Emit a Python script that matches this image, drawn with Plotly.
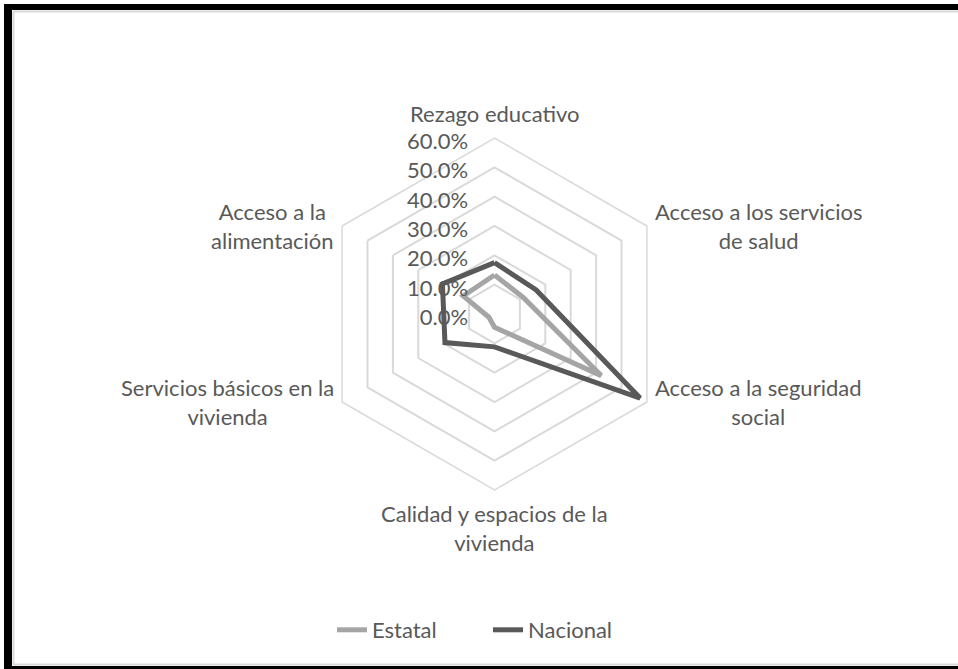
import math
import plotly.graph_objects as go

categories = ["Rezago educativo", "Acceso a los servicios de salud", "Acceso a la seguridad social",
              "Calidad y espacios de la vivienda", "Servicios básicos en la vivienda", "Acceso a la alimentación"]
category_labels = ["Rezago educativo", "Acceso a los servicios<br>de salud", "Acceso a la seguridad<br>social",
                   "Calidad y espacios de la<br>vivienda", "Servicios básicos en la<br>vivienda", "Acceso a la<br>alimentación"]
estatal = [0.133, 0.113, 0.420, 0.045, 0.022, 0.123]
nacional = [0.175, 0.164, 0.573, 0.112, 0.195, 0.205]
tick_values = [0.0, 0.1, 0.2, 0.3, 0.4, 0.5, 0.6]

W, H = 958, 669
cx, cy, R = 494.5, 314.0, 176.0
FONT = "Lato"
FS = 22
TXT = "#595959"

fig = go.Figure()
for name, vals, color in [("Estatal", estatal, "#a5a5a5"), ("Nacional", nacional, "#595959")]:
    fig.add_trace(go.Scatterpolar(
        r=vals + vals[:1], theta=categories + categories[:1], mode="lines", name=name,
        line=dict(color=color, width=5), hoverinfo="skip"))

def px(x, y):
    return x / W, 1 - y / H

annotations = []
for i, lab in enumerate(category_labels):
    a = math.radians(90 - 60 * i)
    vx, vy = cx + R * math.cos(a), cy - R * math.sin(a)
    if i == 0:
        x, y, xa, ya = vx, vy - 9, "center", "bottom"
    elif i == 3:
        x, y, xa, ya = vx, vy + 8, "center", "top"
    elif i in (1, 2):
        x, y, xa, ya = vx + 6, vy, "left", "middle"
    else:
        x, y, xa, ya = vx - 6, vy, "right", "middle"
    X, Y = px(x, y)
    annotations.append(dict(text=lab, x=X, y=Y, xref="paper", yref="paper", xanchor=xa, yanchor=ya,
                            showarrow=False, align="center", font=dict(family=FONT, size=FS, color=TXT)))

shapes = [
    dict(type="rect", xref="paper", yref="paper", x0=4/W, x1=12/W, y0=0, y1=1-4/H, fillcolor="black", line_width=0, layer="above"),
    dict(type="rect", xref="paper", yref="paper", x0=4/W, x1=1, y0=1-10/H, y1=1-4/H, fillcolor="black", line_width=0, layer="above"),
    dict(type="rect", xref="paper", yref="paper", x0=4/W, x1=1, y0=0, y1=3/H, fillcolor="black", line_width=0, layer="above"),
    dict(type="line", xref="paper", yref="paper", x0=13.5/W, x1=13.5/W, y0=4/H, y1=1-11/H, line=dict(color="#d9d9d9", width=2)),
    dict(type="line", xref="paper", yref="paper", x0=13/W, x1=1, y0=1-11.5/H, y1=1-11.5/H, line=dict(color="#d9d9d9", width=2)),
    dict(type="line", xref="paper", yref="paper", x0=13/W, x1=1, y0=4.5/H, y1=4.5/H, line=dict(color="#d9d9d9", width=2)),
]

fig.update_layout(
    width=W, height=H, margin=dict(l=0, r=0, t=0, b=0),
    paper_bgcolor="white", plot_bgcolor="white",
    font=dict(family=FONT, color=TXT, size=FS),
    polar=dict(
        domain=dict(x=[(cx - R) / W, (cx + R) / W], y=[(H - cy - R) / H, (H - cy + R) / H]),
        bgcolor="white", gridshape="linear",
        radialaxis=dict(range=[0, 0.6], tickvals=tick_values, tickformat=".1%", angle=90,
                        side="counterclockwise", showline=False, gridcolor="#d9d9d9", gridwidth=1.5,
                        ticks="outside", ticklen=6, tickcolor="rgba(0,0,0,0)",
                        tickfont=dict(family=FONT, size=FS, color=TXT)),
        angularaxis=dict(direction="clockwise", rotation=90, showgrid=False, showline=True,
                         linecolor="#d9d9d9", linewidth=1.5, showticklabels=False, ticks=""),
    ),
    legend=dict(orientation="h", x=332/W, y=39/H, xanchor="left", yanchor="middle",
                entrywidth=111, entrywidthmode="pixels",
                font=dict(family=FONT, size=FS, color=TXT)),
    annotations=annotations, shapes=shapes,
)
fig.write_html("out.html", config={"displayModeBar": False},
               post_script="document.body.style.margin='0';document.body.style.overflow='hidden';")
